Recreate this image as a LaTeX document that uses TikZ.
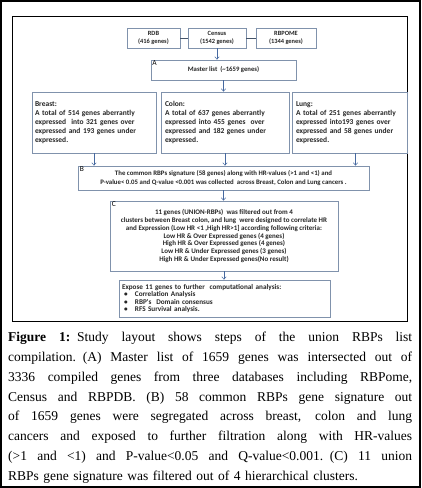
\documentclass[tikz,border=0pt]{standalone}
\usepackage{fontspec}
\setmainfont{Liberation Serif}
\newfontfamily\boxfont{Carlito}
\usepackage{xcolor}
\usepackage{tikz}
\usetikzlibrary{arrows.meta, positioning, calc}
\definecolor{boxgray}{RGB}{128, 146, 172}
\definecolor{arrowblue}{RGB}{70, 105, 160}
\definecolor{linkgray}{RGB}{68, 84, 106}
\newcommand{\capline}[1]{\hbox to 404pt{\spaceskip=0.25em plus 1fil\relax #1}}

\begin{document}
\begin{tikzpicture}[x=1pt, y=-1pt,
    blk/.style={rectangle, draw=boxgray, line width=0.8pt, fill=white, inner sep=0pt, align=center, text=black!85, font=\boxfont\bfseries\fontsize{6.4}{7.4}\selectfont},
    cancer/.style={blk, minimum height=61pt, align=left, font=\boxfont\bfseries\fontsize{7.5}{9}\selectfont},
    tag/.style={inner sep=0pt, anchor=north west, font=\boxfont\fontsize{7.5}{8}\selectfont},
    flow/.style={draw=arrowblue, line width=0.5pt, -{Straight Barb[length=2.5pt, width=4.5pt]}},
    link/.style={draw=linkgray, line width=0.8pt}
]
    \useasboundingbox (0,0) rectangle (421,488);
    \draw[line width=2pt] (1,1) rectangle (420,487);
    \draw[line width=0.8pt] (12,16) rectangle (407,321);
    \node[blk, minimum width=53pt, minimum height=20pt] (rdb) at (153.5,38) {RDB\\(416 genes)};
    \node[blk, minimum width=58pt, minimum height=20pt] (census) at (217,38) {Census\\(1542 genes)};
    \node[blk, minimum width=60pt, minimum height=20pt] (rbpome) at (286,38) {RBPOME\\(1344 genes)};
    \node[blk, minimum width=145pt, minimum height=20pt, font=\boxfont\bfseries\fontsize{6.7}{8}\selectfont] (master) at (223.5,70) {Master list~~(\textasciitilde1659 genes)};
    \node[cancer, minimum width=124pt, text width=118pt] (breast) at (94,122.5) {
        Breast:\\
        A total of 514 genes aberrantly\\
        expressed~ into 321 genes over\\
        expressed and 193 genes under\\
        expressed.
    };
    \node[cancer, minimum width=128pt, text width=120pt] (colon) at (225,122.5) {
        Colon:\\
        A total of 637 genes aberrantly\\
        expressed into 455 genes~ over\\
        expressed and 182 genes under\\
        expressed.
    };
    \node[cancer, minimum width=115pt, text width=107pt] (lung) at (349.5,122.5) {
        Lung:\\
        A total of 251 genes aberrantly\\
        expressed into193 genes over\\
        expressed and 58 genes under\\
        expressed.
    };
    \node[blk, minimum width=291pt, minimum height=24pt, font=\boxfont\bfseries\fontsize{6.8}{9}\selectfont] (bsig) at (223.5,178) {
        The common RBPs signature (58 genes) along with HR-values (>1 and <1) and\\
        P-value< 0.05 and Q-value <0.001 was collected~ across Breast, Colon and Lung cancers .
    };
    \node[blk, minimum width=228pt, minimum height=70pt, font=\boxfont\bfseries\fontsize{7}{7.7}\selectfont] (crit) at (224,236) {
        11 genes (UNION-RBPs)~ was filtered out from 4\\
        clusters between Breast colon, and lung~ were designed to correlate HR\\
        and Expression (Low HR <1 ,High HR>1] according following criteria:\\
        Low HR \& Over Expressed genes (4 genes)\\
        High HR \& Over Expressed genes (4 genes)\\
        Low HR \& Under Expressed genes (3 genes)\\
        High HR \& Under Expressed genes(No result)
    };
    \node[blk, minimum width=211pt, minimum height=37pt, text width=205pt, align=left, font=\boxfont\bfseries\fontsize{7.2}{7.4}\selectfont] (expose) at (224.5,298.5) {
        Expose 11 genes to further~ computational analysis:\\
        \makebox[13pt][l]{\hspace{2pt}\textbullet}Correlation Analysis\\
        \makebox[13pt][l]{\hspace{2pt}\textbullet}RBP's~ Domain consensus\\
        \makebox[13pt][l]{\hspace{2pt}\textbullet}RFS Survival analysis.
    };
    \node[tag] (taga) at ($(master.north west)+(1.5,1)$) {A};
    \node[tag] (tagb) at ($(bsig.north west)+(2,1)$) {B};
    \node[tag] (tagc) at ($(crit.north west)+(2,1)$) {C};
    \coordinate (lungout) at ($(lung.south)+(6,0)$);
    \draw[link] (rdb.east) -- (census.west);
    \draw[link] (census.east) -- (rbpome.west);
    \draw[flow] (census.south) -- (census.south |- master.north);
    \draw[flow] (master.south) -- (master.south |- colon.north);
    \draw[flow] (breast.south) -- (breast.south |- bsig.north);
    \draw[flow] (colon.south) -- (colon.south |- bsig.north);
    \draw[flow] (lungout) -- (lungout |- bsig.north);
    \draw[flow] (bsig.south) -- (bsig.south |- crit.north);
    \draw[flow] (crit.south) -- (crit.south |- expose.north);
    \node[anchor=north west, inner sep=0pt, text width=404pt, font=\fontsize{13.5}{19.8}\selectfont] (caption) at (8,332) {
        \capline{\textbf{Figure 1:} Study layout shows steps of the union RBPs list}
        \capline{compilation. (A) Master list of 1659 genes was intersected out of}
        \capline{3336 compiled genes from three databases including RBPome,}
        \capline{Census and RBPDB. (B) 58 common RBPs gene signature out}
        \capline{of 1659 genes were segregated across breast, colon and lung}
        \capline{cancers and exposed to further filtration along with HR-values}
        \capline{(>1 and <1) and P-value<0.05 and Q-value<0.001. (C) 11 union}
        \hbox{RBPs gene signature was filtered out of 4 hierarchical clusters.}
    };
\end{tikzpicture}
\end{document}
